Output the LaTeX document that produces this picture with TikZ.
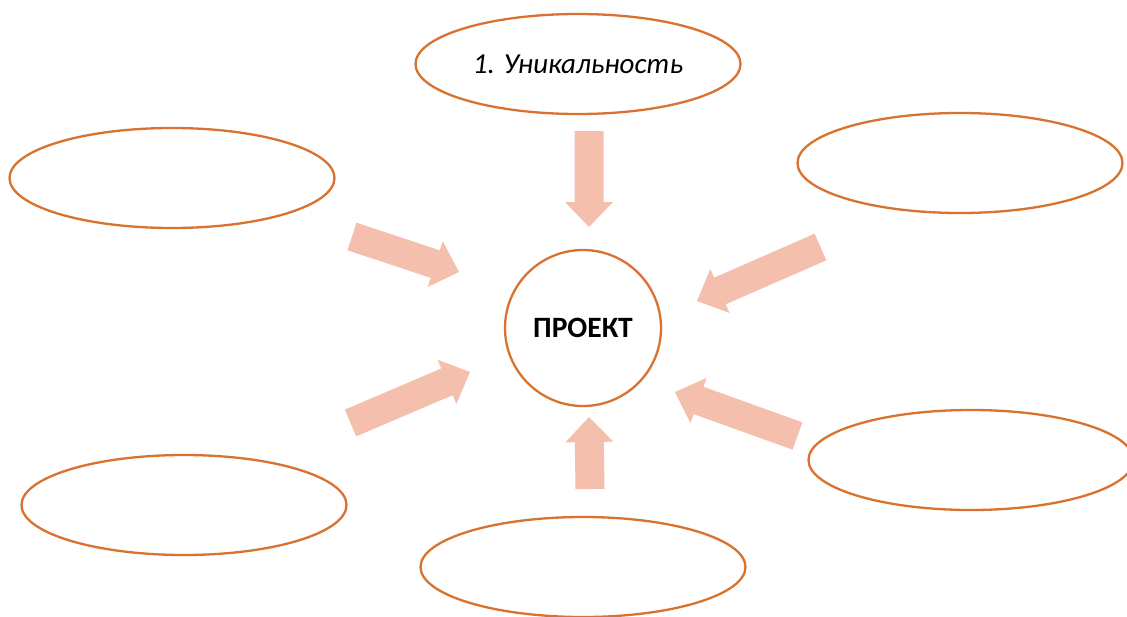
\documentclass[tikz,border=0pt]{standalone}
\usepackage{fontspec}
\setmainfont{Carlito}
\usetikzlibrary{shapes.geometric,calc}
\definecolor{edgeorange}{HTML}{D9722E}
\definecolor{arrowfill}{HTML}{F4BFAD}
% block arrow from coordinate #1 (tail) to coordinate #2 (tip)
\newcommand\blockarrow[2]{%
  \coordinate (#1-h) at ($(#2)!25pt!(#1)$);
  \fill[arrowfill]
    ($(#1)!14.5pt!90:(#2)$) --
    ($(#1-h)!14.5pt!90:(#2)$) --
    ($(#1-h)!24pt!90:(#2)$) --
    (#2) --
    ($(#1-h)!24pt!-90:(#2)$) --
    ($(#1-h)!14.5pt!-90:(#2)$) --
    ($(#1)!14.5pt!-90:(#2)$) -- cycle;
}
\begin{document}
\begin{tikzpicture}[x=1pt,y=-1pt,
  oval/.style={ellipse, draw=edgeorange, line width=2.3pt, minimum width=325pt,
    minimum height=100pt, inner sep=0pt, font=\fontsize{29}{33}\selectfont\itshape},
  hub/.style={circle, draw=edgeorange, line width=2.3pt, minimum size=156pt,
    inner sep=0pt, font=\fontsize{29.5}{34}\selectfont\bfseries}]
\useasboundingbox (0,0) rectangle (1127,616);
\clip (0,0) rectangle (1127,616);
\fill[white] (0,0) rectangle (1127,616);

\node[hub] (c) at (583,328) {ПРОЕКТ};
\node[oval] (top) at (578,64) {1. Уникальность};
\node[oval] (tl) at (172,178) {};
\node[oval] (tr) at (960,163) {};
\node[oval] (bl) at (184,505) {};
\node[oval] (br) at (971,460) {};
\node[oval] (bot) at (583,567) {};

\coordinate (a1) at (589,131);   \coordinate (a1t) at (589,227);
\coordinate (a2) at (590,489);   \coordinate (a2t) at (589,417);
\coordinate (a3) at (352,236.5); \coordinate (a3t) at (459,272);
\coordinate (a4) at (350.5,423); \coordinate (a4t) at (470,372);
\coordinate (a5) at (820.5,247); \coordinate (a5t) at (697,301);
\coordinate (a6) at (797.5,436); \coordinate (a6t) at (675,392);

\blockarrow{a1}{a1t}
\blockarrow{a2}{a2t}
\blockarrow{a3}{a3t}
\blockarrow{a4}{a4t}
\blockarrow{a5}{a5t}
\blockarrow{a6}{a6t}
\end{tikzpicture}
\end{document}
